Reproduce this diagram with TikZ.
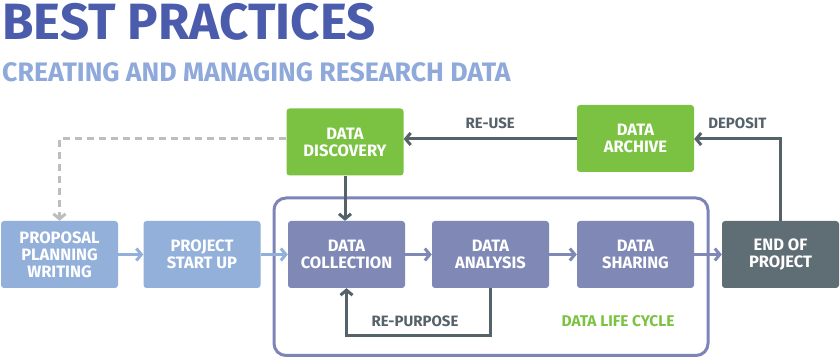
\documentclass[tikz,border=0pt]{standalone}
\usepackage{fontspec}
\setmainfont{Fira Sans}
\usepackage{tikz}
\usetikzlibrary{arrows.meta}
\usetikzlibrary{positioning}
\definecolor{titleblue}{HTML}{4A5CAB}
\definecolor{subblue}{HTML}{8EA9DA}
\definecolor{startblue}{HTML}{93B0DA}
\definecolor{cyclepurple}{HTML}{8088B6}
\definecolor{framepurple}{HTML}{7E84B8}
\definecolor{sharegreen}{HTML}{7CC242}
\definecolor{endgray}{HTML}{5F6E74}
\definecolor{linegray}{HTML}{55626A}
\definecolor{dashgray}{HTML}{BDBDBD}

\begin{document}
\begin{tikzpicture}[
  x=1pt, y=1pt,
  every node/.style={font=\bfseries},
  box/.style={rounded corners=3pt, minimum width=117pt, minimum height=67pt,
    inner sep=0pt, text=white, align=center,
    font=\bfseries\fontsize{16.5}{17}\selectfont},
  flowlabel/.style={text=linegray, font=\bfseries\fontsize{15}{17}\selectfont},
  >={Straight Barb[length=5pt,width=12pt]},
  flow/.style={->, line width=3pt}
]
\useasboundingbox (0,0) rectangle (840,358);

% titles
\node[anchor=base west, text=titleblue, inner sep=0pt,
  font=\bfseries\fontsize{51}{53}\selectfont] (title) at (2,318) {BEST PRACTICES};
\node[anchor=base west, text=subblue, inner sep=0pt,
  font=\bfseries\fontsize{26.7}{28}\selectfont] (subtitle) at (2,276) {CREATING AND MANAGING RESEARCH DATA};

% data life cycle frame
\draw[framepurple, line width=3pt, rounded corners=12pt] (274,2.5) rectangle (708,160);

% main row
\node[box, fill=startblue] (proposal) at (59.5,103.5) {PROPOSAL\\PLANNING\\WRITING};
\node[box, fill=startblue] (startup) at (202,103.5) {PROJECT\\START UP};
\node[box, fill=cyclepurple] (collection) at (346.5,103.5) {DATA\\COLLECTION};
\node[box, fill=cyclepurple] (analysis) at (490.5,103.5) {DATA\\ANALYSIS};
\node[box, fill=cyclepurple] (sharing) at (635.5,103.5) {DATA\\SHARING};
\node[box, fill=endgray] (endproject) at (780.5,103.5) {END OF\\PROJECT};

% top row
\node[box, fill=sharegreen] (discovery) at (345,216) {DATA\\DISCOVERY};
\node[box, fill=sharegreen] (archive) at (635.5,219.5) {DATA\\ARCHIVE};

% connectors
\draw[flow, startblue] (proposal) -- (startup);
\draw[flow, startblue] (startup) -- (collection);
\draw[flow, cyclepurple] (collection) -- (analysis);
\draw[flow, cyclepurple] (analysis) -- (sharing);
\draw[flow, cyclepurple] (sharing) -- (endproject);
\draw[flow, linegray] (discovery.south) -- (discovery.south |- collection.north);
\draw[flow, linegray] (archive.west |- 0,219) -- (discovery.east |- 0,219)
  node[midway, above=5pt, flowlabel] (reuse) {RE-USE};
\draw[flow, linegray] (endproject.north) |- (archive.east |- 0,219)
  node[pos=0.75, above=5pt, flowlabel] (deposit) {DEPOSIT};
\coordinate (loopbottom) at (analysis.south |- 0,22);
\draw[flow, linegray] (analysis.south) -- (loopbottom) -| (collection.south);
\draw[flow, dashgray, dash pattern=on 7pt off 5pt] (discovery.west |- 0,219) -| (proposal.north);

% labels
\node[flowlabel] (repurpose) at (415,37) {RE-PURPOSE};
\node[text=sharegreen, font=\bfseries\fontsize{15.5}{17}\selectfont] (cycle) at (618,37) {DATA LIFE CYCLE};
\end{tikzpicture}
\end{document}
